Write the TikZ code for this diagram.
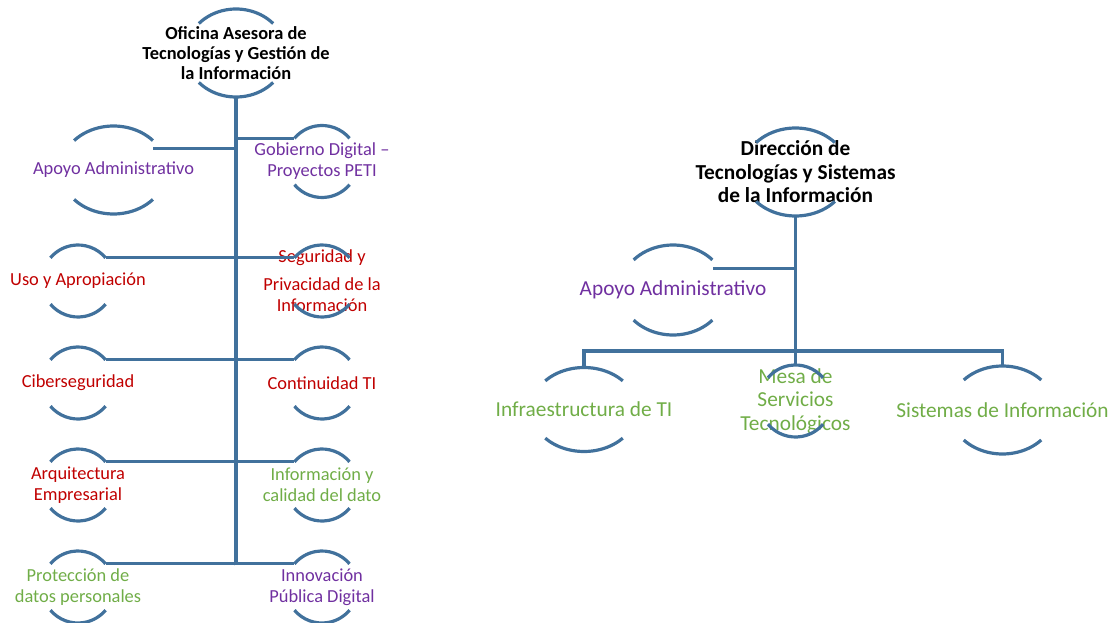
\documentclass[tikz,border=0pt]{standalone}
\usepackage{fontspec}
\setmainfont{Carlito}
\usepackage{xcolor}
\usepackage{tikz}
\usetikzlibrary{calc}
\definecolor{ringblue}{RGB}{65,113,156}
\definecolor{unitpurple}{RGB}{112,48,160}
\definecolor{unitred}{RGB}{192,0,0}
\definecolor{unitgreen}{RGB}{112,173,71}

\begin{document}
\begin{tikzpicture}[x=0.75pt,y=0.75pt,
    ring/.style={ringblue,line width=2.4pt},
    unitL/.style={align=center,inner sep=0pt,font=\fontsize{13.8}{15.8}\selectfont},
    unitR/.style={align=center,inner sep=0pt,font=\fontsize{16}{17.6}\selectfont},
    headL/.style={unitL,font=\fontsize{13.8}{15}\selectfont\bfseries},
    headR/.style={unitR,font=\fontsize{16}{17.6}\selectfont\bfseries}]
\useasboundingbox (0,0) rectangle (1119,622);

% left chart
\node[headL] (oficina) at (236,569) {Oficina Asesora de\\Tecnologías y Gestión de\\la Información};
\node[unitL,unitpurple] (apoyoL) at (113.5,452) {Apoyo Administrativo};
\node[unitL,unitpurple] (gobierno) at (322,460.5) {Gobierno Digital –\\Proyectos PETI};
\node[unitL,unitred] (uso) at (78,341) {Uso y Apropiación};
\node[unitL,unitred] (seguridad) at (322,341) {Seguridad y\\[5pt]Privacidad de la\\Información};
\node[unitL,unitred] (ciber) at (78,239) {Ciberseguridad};
\node[unitL,unitred] (continuidad) at (322,239) {Continuidad TI};
\node[unitL,unitred] (arquitectura) at (78,137) {Arquitectura\\Empresarial};
\node[unitL,unitgreen] (informacion) at (322,137) {Información y\\calidad del dato};
\node[unitL,unitgreen] (proteccion) at (78,35) {Protección de\\datos personales};
\node[unitL,unitpurple] (innovacion) at (322,35) {Innovación\\Pública Digital};
\coordinate (trunkL) at (236,57);

% right chart
\node[headR] (direccion) at (795.5,450) {Dirección de\\Tecnologías y Sistemas\\de la Información};
\node[unitR,unitpurple] (apoyoR) at (673,332) {Apoyo Administrativo};
\node[unitR,unitgreen] (infra) at (584,212.5) {Infraestructura de TI};
\node[unitR,unitgreen] (mesa) at (795.5,221) {Mesa de\\Servicios\\Tecnológicos};
\node[unitR,unitgreen] (sistemas) at (1002.5,212) {Sistemas de Información};
\coordinate (bus) at (795.5,271);

% rings (top and bottom arcs only)
\foreach \n/\rx/\ry/\t in {oficina/50/44/42, apoyoL/53/44/42, direccion/53/44/42,
    apoyoR/53/45/42, infra/53/42/43, sistemas/53/44/43,
    gobierno/36/36/40, uso/36/36/40, seguridad/36/36/40, ciber/36/36/40,
    continuidad/36/36/40, arquitectura/36/36/40, informacion/36/36/40,
    proteccion/36/36/40, innovacion/36/36/40, mesa/36/36/40} {
    \draw[ring] ([shift={({\rx*cos(\t)},{\ry*sin(\t)})}]\n.center)
        arc[start angle=\t, end angle=180-\t, x radius=\rx, y radius=\ry];
    \draw[ring] ([shift={({-\rx*cos(\t)},{-\ry*sin(\t)})}]\n.center)
        arc[start angle=180+\t, end angle=360-\t, x radius=\rx, y radius=\ry];
}

% connectors
\draw[ring] ([shift={(270:44)}]oficina.center) -- (trunkL);
\draw[ring] (trunkL) |- ([shift={(28:45)}]apoyoL.center);
\foreach \n/\a in {gobierno/140, uso/40, seguridad/140, ciber/40, continuidad/140,
    arquitectura/40, informacion/140, proteccion/40, innovacion/140}
    \draw[ring] (trunkL) |- ([shift={(\a:36)}]\n.center);

\draw[ring] ([shift={(270:44)}]direccion.center) -- (bus);
\draw[ring] (bus) |- ([shift={(28:45)}]apoyoR.center);
\draw[ring] (bus) -| ([shift={(90:42)}]infra.center);
\draw[ring] (bus) -- ([shift={(90:36)}]mesa.center);
\draw[ring] (bus) -| ([shift={(90:44)}]sistemas.center);
\end{tikzpicture}
\end{document}
